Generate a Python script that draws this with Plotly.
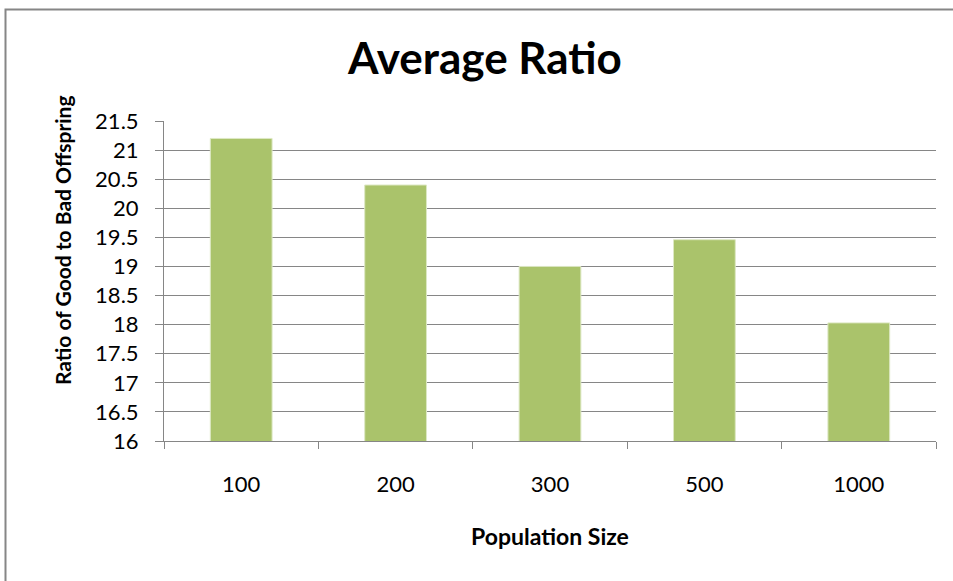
import plotly.graph_objects as go

categories = ["100", "200", "300", "500", "1000"]
values = [21.2, 20.4, 19.0, 19.46, 18.03]
y_ticks = [16, 16.5, 17, 17.5, 18, 18.5, 19, 19.5, 20, 20.5, 21, 21.5]
y_tick_labels = ["16", "16.5", "17", "17.5", "18", "18.5", "19", "19.5", "20", "20.5", "21", "21.5"]

W, H = 953, 581
L, R, T, B = 164, 17, 121, 140
pw, ph = W - L - R, H - T - B

font = "Lato, 'Open Sans', sans-serif"
grey = "#868686"

fig = go.Figure(go.Bar(
    x=categories, y=values,
    marker=dict(color="#AAC36B", line=dict(color="#DDE8C4", width=1)),
))

fig.update_layout(
    width=W, height=H,
    margin=dict(l=L, r=R, t=T, b=B),
    paper_bgcolor="white", plot_bgcolor="white",
    bargap=0.6,
    showlegend=False,
    font=dict(family=font, color="#000000", size=22),
    title=dict(text="<b>Average Ratio</b>", x=485 / W, xanchor="center",
               y=1 - 59 / H, yanchor="middle",
               font=dict(size=44, family=font, color="#000")),
    xaxis=dict(
        type="category", tickson="boundaries", ticks="outside", ticklen=7,
        tickcolor=grey, tickwidth=1, showline=True, linecolor=grey, linewidth=1,
        showgrid=False, tickfont=dict(size=22, family=font),
        ticklabelstandoff=24,
        title=dict(text="<b>Population Size</b>", font=dict(size=23, family=font), standoff=32),
    ),
    yaxis=dict(
        range=[16, 21.5], tickvals=y_ticks, ticktext=y_tick_labels,
        ticks="outside", ticklen=8, tickcolor=grey, tickwidth=1,
        showline=True, linecolor=grey, linewidth=1,
        showgrid=True, gridcolor=grey, gridwidth=1, zeroline=False,
        tickfont=dict(size=22, family=font),
        ticklabelstandoff=12,
    ),
    annotations=[dict(
        text="<b>Ratio of Good to Bad Offspring</b>", textangle=-90,
        xref="paper", yref="paper",
        x=(62 - L) / pw, y=(H - B - 240) / ph,
        xanchor="center", yanchor="middle", showarrow=False,
        font=dict(size=21, family=font, color="#000"),
    )],
    shapes=[dict(
        type="rect", xref="paper", yref="paper",
        x0=(5.5 - L) / pw, x1=(W + 5 - L) / pw,
        y0=(H - B - (H + 5)) / ph, y1=(H - B - 9.5) / ph,
        line=dict(color=grey, width=2), fillcolor="rgba(0,0,0,0)", layer="above",
    )],
)

fig.write_html("out.html")
